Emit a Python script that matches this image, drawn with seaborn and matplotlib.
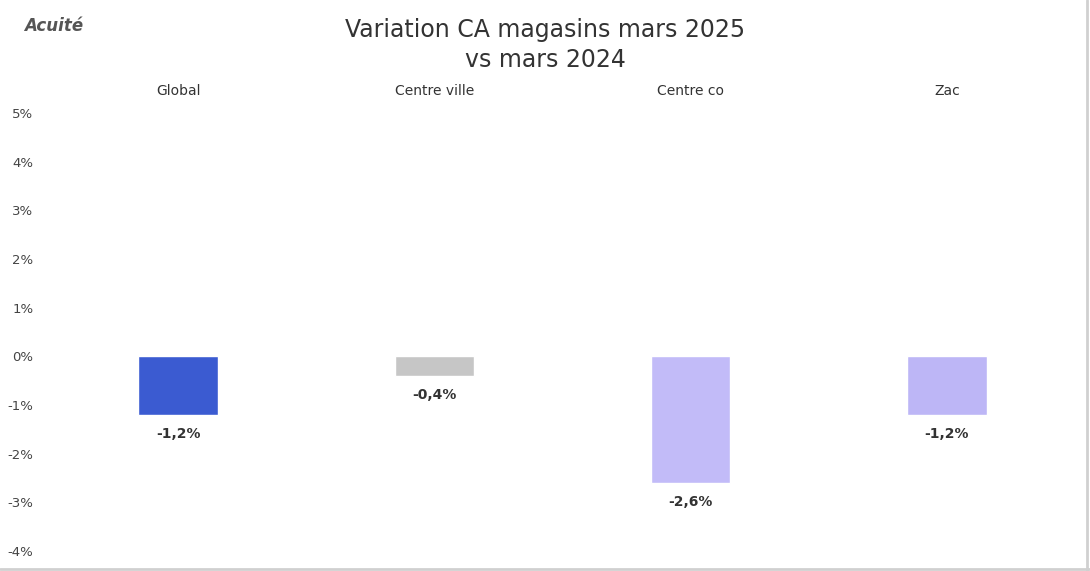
import matplotlib.pyplot as plt
import matplotlib.ticker as ticker
from matplotlib.lines import Line2D
import pandas as pd
import seaborn as sns

categories = ['Global', 'Centre ville', 'Centre co', 'Zac']
variation = [-1.2, -0.4, -2.6, -1.2]
bar_colors = ['#3b5bd1', '#c6c6c6', '#c2bbf8', '#bdb6f6']
y_ticks = [-4, -3, -2, -1, 0, 1, 2, 3, 4, 5]

df = pd.DataFrame({'Segment': categories, 'Variation': variation})

sns.set_theme(style='white')
plt.rcParams['font.family'] = ['DejaVu Sans']

fig = plt.figure(figsize=(10.9, 5.71), dpi=100)
ax = fig.add_axes([50 / 1090, 20 / 571, 1025 / 1090, 438 / 571])

sns.barplot(data=df, x='Segment', y='Variation', hue='Segment',
            palette=bar_colors, width=0.31, legend=False, ax=ax,
            saturation=1)

ax.set_ylim(-4, 5)
ax.set_xlim(-0.5, 3.5)
ax.set_yticks(y_ticks)
ax.yaxis.set_major_formatter(ticker.FuncFormatter(lambda v, pos: f'{v:.0f}%'))
ax.tick_params(axis='y', labelsize=9.5, labelcolor='#444444', pad=12, length=0)
ax.xaxis.tick_top()
ax.tick_params(axis='x', labelsize=10, labelcolor='#333333', pad=11, length=0)
ax.set_xlabel('')
ax.set_ylabel('')
for s in ax.spines.values():
    s.set_visible(False)

for i, v in enumerate(variation):
    label = f'{v:.1f}%'.replace('.', ',')
    ax.annotate(label, (i, v), xytext=(0, -14), textcoords='offset points',
                ha='center', va='center', fontsize=10, fontweight='bold',
                color='#333333')

fig.text(0.5, 0.947, 'Variation CA magasins mars 2025', ha='center', va='center',
         fontsize=17, color='#333333')
fig.text(0.5, 0.895, 'vs mars 2024', ha='center', va='center',
         fontsize=17, color='#333333')
fig.text(0.022, 0.955, 'Acuité', ha='left', va='center', fontsize=12,
         fontweight='bold', fontstyle='italic', color='#555555')

fig.add_artist(Line2D([0, 1], [0.003, 0.003], color='#d0d0d0', lw=2))
fig.add_artist(Line2D([0.997, 0.997], [0, 1], color='#d0d0d0', lw=2))

fig.savefig('out.png', dpi=100)
